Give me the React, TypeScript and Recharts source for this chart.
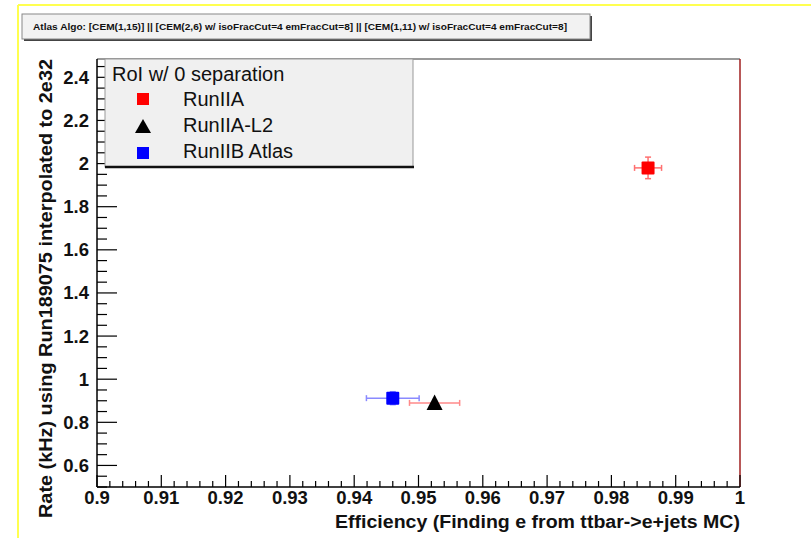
import React from "react";
import {
  ScatterChart,
  Scatter,
  XAxis,
  YAxis,
  ErrorBar,
  ReferenceLine,
} from "recharts";

// ---- data ----
const runIIA = [{ eff: 0.9857, rate: 1.98, effErr: 0.0021, rateErr: 0.05 }];
const runIIAL2 = [{ eff: 0.9525, rate: 0.89, effErr: 0.0039, rateErr: 0 }];
const runIIBAtlas = [{ eff: 0.946, rate: 0.912, effErr: 0.0041, rateErr: 0.03 }];

const xMajorTicks = [0.9, 0.91, 0.92, 0.93, 0.94, 0.95, 0.96, 0.97, 0.98, 0.99, 1];
const xMinorTicks = [
  0.902, 0.904, 0.906, 0.908, 0.912, 0.914, 0.916, 0.918, 0.922, 0.924, 0.926, 0.928,
  0.932, 0.934, 0.936, 0.938, 0.942, 0.944, 0.946, 0.948, 0.952, 0.954, 0.956, 0.958,
  0.962, 0.964, 0.966, 0.968, 0.972, 0.974, 0.976, 0.978, 0.982, 0.984, 0.986, 0.988,
  0.992, 0.994, 0.996, 0.998,
];
const yMajorTicks = [0.6, 0.8, 1, 1.2, 1.4, 1.6, 1.8, 2, 2.2, 2.4];
const yMinorTicks = [
  0.5, 0.55, 0.65, 0.7, 0.75, 0.85, 0.9, 0.95, 1.05, 1.1, 1.15, 1.25, 1.3, 1.35,
  1.45, 1.5, 1.55, 1.65, 1.7, 1.75, 1.85, 1.9, 1.95, 2.05, 2.1, 2.15, 2.25, 2.3,
  2.35, 2.45,
];
const xDomain = [0.9, 1];
const yDomain = [0.5, 2.485];

const titleText =
  "Atlas Algo: [CEM(1,15)] || [CEM(2,6) w/ isoFracCut=4 emFracCut=8] || [CEM(1,11) w/ isoFracCut=4 emFracCut=8]";
const xTitle = "Efficiency (Finding e from ttbar->e+jets MC)";
const yTitle = "Rate (kHz) using Run189075 interpolated to 2e32";
const legendHeader = "RoI w/ 0 separation";
const legendNames = ["RunIIA", "RunIIA-L2", "RunIIB Atlas"];

const FONT = "'Liberation Sans', Arial, Helvetica, sans-serif";

const isMajor = (v: number, arr: number[]) => arr.some((m) => Math.abs(m - v) < 1e-9);

const XTick = (props: any) => {
  const { x, y, payload } = props;
  const major = isMajor(payload.value, xMajorTicks);
  return (
    <g>
      <line x1={x} x2={x} y1={y} y2={y - (major ? 12 : 6)} stroke="#000" strokeWidth={1.2} />
      {major && (
        <text x={x} y={y + 17} textAnchor="middle" fontFamily={FONT} fontWeight="bold" fontSize={18.5} fill="#111">
          {String(payload.value)}
        </text>
      )}
    </g>
  );
};

const YTick = (props: any) => {
  const { x, y, payload } = props;
  const major = isMajor(payload.value, yMajorTicks);
  return (
    <g>
      <line x1={x} x2={x + (major ? 20 : 10)} y1={y} y2={y} stroke="#000" strokeWidth={1.2} />
      {major && (
        <text x={x - 8} y={y + 6.5} textAnchor="end" fontFamily={FONT} fontWeight="bold" fontSize={18.5} fill="#111">
          {String(payload.value)}
        </text>
      )}
    </g>
  );
};

const SquareShape = (color: string, half: number) => (props: any) => {
  const { cx, cy } = props;
  return <rect x={cx - half} y={cy - half} width={half * 2} height={half * 2} fill={color} rx={1} />;
};

const TriangleShape = (props: any) => {
  const { cx, cy } = props;
  return (
    <polygon
      points={`${cx},${cy - 8.5} ${cx - 8},${cy + 7} ${cx + 8},${cy + 7}`}
      fill="#000"
    />
  );
};

export default function App() {
  const xTicks = [...xMajorTicks, ...xMinorTicks].sort((a, b) => a - b);
  const yTicks = [...yMajorTicks, ...yMinorTicks].sort((a, b) => a - b);
  return (
    <div style={{ position: "absolute", left: 0, top: 0, width: 811, height: 538, background: "#fff" }}>
      <ScatterChart width={811} height={538} margin={{ top: 59, right: 71, bottom: 21, left: 37 }}>
        <XAxis
          type="number"
          dataKey="eff"
          domain={xDomain}
          ticks={xTicks}
          interval={0}
          height={30}
          tickSize={0}
          tickMargin={0}
          tickLine={false}
          tick={<XTick />}
          axisLine={{ stroke: "#000", strokeWidth: 1.5 }}
          allowDataOverflow
        />
        <YAxis
          type="number"
          dataKey="rate"
          domain={yDomain}
          ticks={yTicks}
          interval={0}
          width={60}
          tickSize={0}
          tickMargin={0}
          tickLine={false}
          tick={<YTick />}
          axisLine={{ stroke: "#000", strokeWidth: 1.5 }}
          allowDataOverflow
        />
        <ReferenceLine y={2.485} stroke="#777" strokeWidth={1.5} ifOverflow="extendDomain" />
        <ReferenceLine x={1} stroke="#a02020" strokeWidth={1.5} />
        <Scatter data={runIIAL2} shape={TriangleShape} isAnimationActive={false}>
          <ErrorBar dataKey="effErr" direction="x" width={3} stroke="#ff8a8a" strokeWidth={1.5} />
        </Scatter>
        <Scatter data={runIIBAtlas} shape={SquareShape("#0000ff", 6.5)} isAnimationActive={false}>
          <ErrorBar dataKey="effErr" direction="x" width={3} stroke="#8a8aff" strokeWidth={1.5} />
          <ErrorBar dataKey="rateErr" direction="y" width={3} stroke="#8a8aff" strokeWidth={1.5} />
        </Scatter>
        <Scatter data={runIIA} shape={SquareShape("#ff0000", 6.5)} isAnimationActive={false}>
          <ErrorBar dataKey="effErr" direction="x" width={3} stroke="#ff7070" strokeWidth={1.5} />
          <ErrorBar dataKey="rateErr" direction="y" width={3} stroke="#ff7070" strokeWidth={1.5} />
        </Scatter>
      </ScatterChart>
      <svg
        width={811}
        height={538}
        style={{ position: "absolute", left: 0, top: 0, pointerEvents: "none" }}
      >
        {/* yellow frame */}
        <line x1={18} x2={811} y1={5} y2={5} stroke="#ffff50" strokeWidth={2} />
        <line x1={18} x2={18} y1={5} y2={538} stroke="#ffff50" strokeWidth={2} />
        {/* title box */}
        <rect x={24} y={16} width={568} height={25} fill="#444" />
        <rect x={22} y={14} width={568} height={25} fill="#f2f2f2" stroke="#888" strokeWidth={1} />
        <text
          x={33}
          y={30}
          fontFamily={FONT}
          fontWeight="bold"
          fontSize={9.5}
          fill="#111"
          textLength={534}
          lengthAdjust="spacingAndGlyphs"
        >
          {titleText}
        </text>
        {/* legend */}
        <rect x={105} y={59} width={308} height={108} fill="#f0f0f0" stroke="#999" strokeWidth={1} />
        <line x1={105} x2={414} y1={167} y2={167} stroke="#111" strokeWidth={2.5} />
        <text x={112} y={81} fontFamily={FONT} fontSize={20} fill="#111">
          {legendHeader}
        </text>
        <rect x={137} y={93} width={12} height={12} fill="#ff0000" />
        <polygon points="143,119 135,133 151,133" fill="#000" />
        <rect x={137} y={147} width={12} height={12} fill="#0000ff" />
        <text x={183} y={106} fontFamily={FONT} fontSize={20} fill="#111">{legendNames[0]}</text>
        <text x={183} y={132} fontFamily={FONT} fontSize={20} fill="#111">{legendNames[1]}</text>
        <text x={183} y={158} fontFamily={FONT} fontSize={20} fill="#111">{legendNames[2]}</text>
        {/* axis titles */}
        <text
          x={740}
          y={528}
          textAnchor="end"
          fontFamily={FONT}
          fontWeight="bold"
          fontSize={18}
          fill="#111"
          textLength={405}
          lengthAdjust="spacingAndGlyphs"
        >
          {xTitle}
        </text>
        <text
          x={0}
          y={0}
          transform="translate(52,518) rotate(-90)"
          textAnchor="start"
          fontFamily={FONT}
          fontWeight="bold"
          fontSize={18}
          fill="#111"
          textLength={459}
          lengthAdjust="spacingAndGlyphs"
        >
          {yTitle}
        </text>
      </svg>
    </div>
  );
}
